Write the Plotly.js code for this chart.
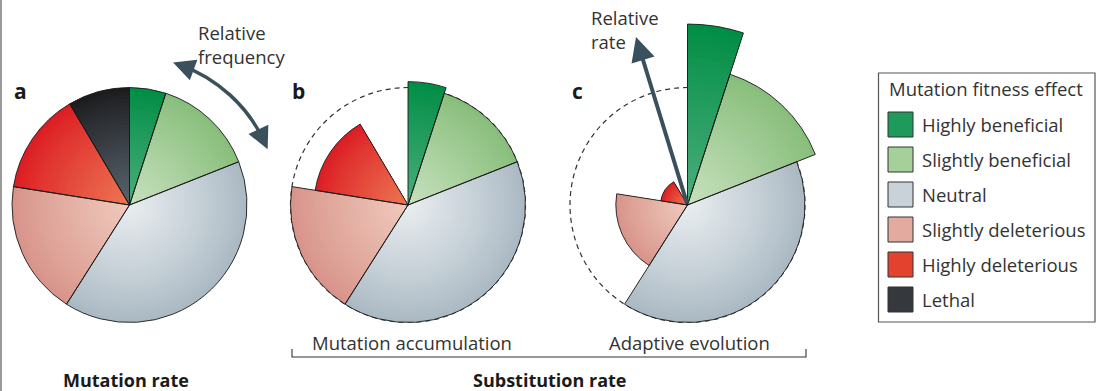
<!DOCTYPE html>
<html><head><meta charset="utf-8">
<script src="https://cdn.plot.ly/plotly-3.0.1.min.js"></script>
<style>html,body{margin:0;padding:0;background:#fff}#chart{width:1098px;height:391px}</style>
</head><body><div id="chart"></div>
<script>
// ---- data ----
const categories = ['Highly beneficial', 'Slightly beneficial', 'Neutral', 'Slightly deleterious', 'Highly deleterious', 'Lethal'];
const relativeFrequency = [0.05, 0.14, 0.40, 0.185, 0.14, 0.085];
const rateMutation = [1, 1, 1, 1, 1, 1];
const rateAccumulation = [1.05, 1, 1, 1, 0.8, 0];
const rateAdaptive = [1.54, 1.17, 1, 0.61, 0.23, 0];
const panelLetters = ['a', 'b', 'c'];
const legendTitle = 'Mutation fitness effect';

// ---- styles ----
const innerColors = ['#4aae7a', '#c6e0bc', '#e8ecef', '#efc8bb', '#ec7552', '#58636d'];
const outerColors = ['#008d45', '#88be7b', '#aab9c3', '#d8948a', '#dc1e24', '#1c1c1e'];
const swatchColors = ['#1e9a5a', '#a6d09a', '#c9d2d9', '#e3aa9f', '#e3422f', '#35393d'];
const W = 1098, H = 391, UNIT = 117.5, N = 32;
const FONT = '"Open Sans", sans-serif';
const px = x => x / W, py = y => 1 - y / H;

function hex2rgb(h){return [1,3,5].map(i=>parseInt(h.substr(i,2),16));}
function lerp(a,b,t){const A=hex2rgb(a),B=hex2rgb(b);return 'rgb('+A.map((v,i)=>Math.round(v+(B[i]-v)*t)).join(',')+')';}

// angular geometry from relative frequencies
const widths = relativeFrequency.map(f => f * 360);
const thetas = [];
let acc = 0;
widths.forEach(w => { thetas.push(acc + w / 2); acc += w; });

const panels = [
  {subplot: 'polar', rates: rateMutation, cx: 129.5, cy: 205, rmax: 1.02},
  {subplot: 'polar2', rates: rateAccumulation, cx: 408, cy: 205, rmax: 1.08},
  {subplot: 'polar3', rates: rateAdaptive, cx: 687.5, cy: 205, rmax: 1.56}
];

const data = [];
const layout = {
  width: W, height: H, margin: {l: 0, r: 0, t: 0, b: 0},
  paper_bgcolor: '#fff', showlegend: false,
  font: {family: FONT, color: '#333'},
  shapes: [], annotations: []
};

panels.forEach(p => {
  for (let k = 0; k < N; k++) {
    const t = k / (N - 1);
    data.push({
      type: 'barpolar', subplot: p.subplot, theta: thetas, width: widths,
      r: p.rates.map(v => v * (1 - k / N)),
      marker: {color: outerColors.map((c, i) => lerp(c, innerColors[i], Math.pow(t, 0.9))), line: {width: 0}},
      hoverinfo: 'skip', showlegend: false
    });
  }
  data.push({
    type: 'barpolar', subplot: p.subplot, theta: thetas, width: widths, r: p.rates,
    name: 'outline', text: categories,
    marker: {color: 'rgba(0,0,0,0)', line: {color: '#1a1a1a', width: 0.9}},
    hovertemplate: '%{text}: %{r}<extra></extra>', showlegend: false
  });
  const R = p.rmax * UNIT;
  layout[p.subplot] = {
    domain: {x: [px(p.cx - R), px(p.cx + R)], y: [py(p.cy + R), py(p.cy - R)]},
    bgcolor: 'rgba(0,0,0,0)', barmode: 'overlay', hole: 0,
    radialaxis: {range: [0, p.rmax], visible: false},
    angularaxis: {visible: false, rotation: 90, direction: 'clockwise'}
  };
});

// dashed reference circles (rate = 1) for b and c
[panels[1], panels[2]].forEach(p => {
  layout.shapes.push({type: 'circle', xref: 'paper', yref: 'paper', layer: 'below',
    x0: px(p.cx - UNIT), x1: px(p.cx + UNIT), y0: py(p.cy + UNIT), y1: py(p.cy - UNIT),
    line: {color: '#333', width: 1.2, dash: '5px,4px'}, fillcolor: 'rgba(0,0,0,0)'});
});

// left border
layout.shapes.push({type: 'line', xref: 'paper', yref: 'paper', x0: px(1), x1: px(1), y0: 0, y1: 1,
  line: {color: '#9a9a9a', width: 2}});

// bracket under b and c
const bx0 = 292, bx1 = 806, byL = 357, byT = 349;
layout.shapes.push({type: 'path', xref: 'paper', yref: 'paper',
  path: `M${px(bx0)},${py(byT)} L${px(bx0)},${py(byL)} L${px(bx1)},${py(byL)} L${px(bx1)},${py(byT)}`,
  line: {color: '#333', width: 1.1}});

// curved "relative frequency" arrow around panel a
const ARROW = '#3b505d';
const ac = {x: 129.5, y: 205}, AR = 149;
const pt = deg => {const r = deg * Math.PI / 180; return {x: ac.x + AR * Math.sin(r), y: ac.y - AR * Math.cos(r)};};
const th0 = 19.5, th1 = 65.5;
const P0 = pt(th0), P3 = pt(th1);
const span = (th1 - th0) * Math.PI / 180, kk = 4 / 3 * Math.tan(span / 4) * AR;
const t0 = th0 * Math.PI / 180, t1 = th1 * Math.PI / 180;
const C1 = {x: P0.x + kk * Math.cos(t0), y: P0.y + kk * Math.sin(t0)};
const C2 = {x: P3.x - kk * Math.cos(t1), y: P3.y - kk * Math.sin(t1)};
layout.shapes.push({type: 'path', xref: 'paper', yref: 'paper',
  path: `M${px(P0.x)},${py(P0.y)} C${px(C1.x)},${py(C1.y)} ${px(C2.x)},${py(C2.y)} ${px(P3.x)},${py(P3.y)}`,
  line: {color: ARROW, width: 3.5}});
[[17, 23], [68, 62]].forEach(([tip, tail]) => {
  const a = pt(tip), b = pt(tail);
  layout.annotations.push({xref: 'paper', yref: 'paper', x: px(a.x), y: py(a.y), ax: b.x - a.x, ay: b.y - a.y,
    axref: 'pixel', ayref: 'pixel', text: '', showarrow: true, arrowhead: 2, arrowsize: 1.25,
    arrowwidth: 3.5, arrowcolor: ARROW, standoff: 0, startstandoff: 0});
});

// straight "relative rate" arrow in panel c
layout.annotations.push({xref: 'paper', yref: 'paper', x: px(636), y: py(37), ax: 687.5 - 636, ay: 205 - 37,
  axref: 'pixel', ayref: 'pixel', text: '', showarrow: true, arrowhead: 2, arrowsize: 1.2,
  arrowwidth: 4, arrowcolor: ARROW, standoff: 0, startstandoff: 0});

// text
function txt(s, x, y, opt) {
  layout.annotations.push(Object.assign({xref: 'paper', yref: 'paper', x: px(x), y: py(y), text: s,
    showarrow: false, xanchor: 'left', yanchor: 'middle', font: {family: FONT, size: 18.5, color: '#333'}}, opt || {}));
}
txt('Relative<br>frequency', 196, 45, {align: 'left'});
txt('Relative<br>rate', 589, 29, {align: 'left'});
[[panelLetters[0], 12, 91], [panelLetters[1], 290, 91], [panelLetters[2], 570, 91]].forEach(([s, x, y]) =>
  txt('<b>' + s + '</b>', x, y, {font: {family: FONT, size: 21, color: '#1a1a1a'}}));
txt('Mutation accumulation', 412, 342, {xanchor: 'center'});
txt('Adaptive evolution', 689, 342, {xanchor: 'center'});
txt('<b>Mutation rate</b>', 126, 380, {xanchor: 'center', font: {family: FONT, size: 18, color: '#1a1a1a'}});
txt('<b>Substitution rate</b>', 549, 380, {xanchor: 'center', font: {family: FONT, size: 18, color: '#1a1a1a'}});

// legend
layout.shapes.push({type: 'rect', xref: 'paper', yref: 'paper', x0: px(878.5), x1: px(1095), y0: py(322), y1: py(73),
  line: {color: '#555', width: 1.2}, fillcolor: 'rgba(0,0,0,0)'});
txt(legendTitle, 887, 88, {font: {family: FONT, size: 18.5, color: '#333'}});
categories.forEach((c, i) => {
  const yc = 124.5 + i * 35;
  layout.shapes.push({type: 'rect', xref: 'paper', yref: 'paper', x0: px(888), x1: px(913), y0: py(yc + 12.5), y1: py(yc - 12.5),
    line: {color: '#333', width: 1}, fillcolor: swatchColors[i]});
  txt(c, 920, yc, {font: {family: FONT, size: 18.5, color: '#333'}});
});

Plotly.newPlot('chart', data, layout, {displayModeBar: false, staticPlot: true});
</script></body></html>
